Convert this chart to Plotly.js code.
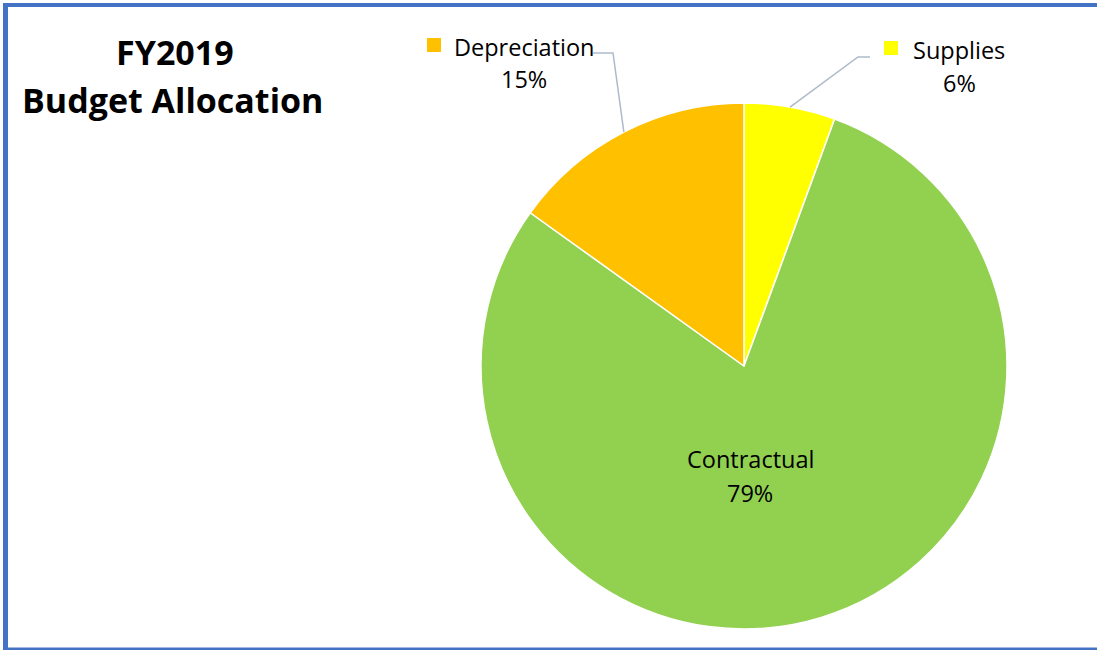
<!DOCTYPE html>
<html><head><meta charset="utf-8">
<script src="https://cdn.plot.ly/plotly-3.0.1.min.js"></script>
<style>html,body{margin:0;padding:0;background:#fff}#chart{width:1097px;height:650px}</style>
</head><body><div id="chart"></div>
<script>
const categories = ["Supplies", "Contractual", "Depreciation"];
const values = [5.6, 79.3, 15.1];
const colors = ["#FFFF00", "#92D050", "#FFC000"];
const titleLines = ["FY2019", "Budget Allocation"];

const W = 1097, H = 650;
const FONT = "Open Sans, Noto Sans, sans-serif";
const px = x => x / W, py = y => 1 - y / H;

// pie geometry (pixels)
const cx = 744, cy = 366, R = 263;
const total = values.reduce((a, b) => a + b, 0);
const pct = values.map(v => Math.round(v / total * 100) + "%");
let cum = 0;
const mids = values.map(v => { const m = (cum + v / 2) / total; cum += v; return m * 2 * Math.PI; });
const edge = i => [cx + R * Math.sin(mids[i]), cy - R * Math.cos(mids[i])];

const shapes = [];
const annotations = [];
const leaderColor = "#AEBACB";
const LBL = 23.5;

function textAt(x, y, text, size, bold) {
  annotations.push({xref: "paper", yref: "paper", x: px(x), y: py(y),
    xanchor: "center", yanchor: "middle", showarrow: false, align: "center",
    text: bold ? "<b>" + text + "</b>" : text, font: {family: FONT, size: size, color: "#000"}});
}

// outside labels with leader lines and keys
const outside = [
  {i: 2, bend: [613, 53], end: [593, 53], l1: [524, 47], l2: [524, 79], key: [427, 38]},
  {i: 0, bend: [858, 57], end: [870, 57], l1: [959, 50], l2: [959, 83], key: [884, 41]}
];
outside.forEach(o => {
  const [ex, ey] = edge(o.i);
  shapes.push({type: "path", xref: "paper", yref: "paper",
    path: `M${px(ex)},${py(ey)} L${px(o.bend[0])},${py(o.bend[1])} L${px(o.end[0])},${py(o.end[1])}`,
    line: {color: leaderColor, width: 1.5}});
  shapes.push({type: "rect", xref: "paper", yref: "paper",
    x0: px(o.key[0]), x1: px(o.key[0] + 14), y0: py(o.key[1]), y1: py(o.key[1] + 14),
    fillcolor: colors[o.i], line: {width: 0}});
  textAt(o.l1[0], o.l1[1], categories[o.i], LBL);
  textAt(o.l2[0], o.l2[1], pct[o.i], LBL);
});
// inside label
textAt(750, 459, categories[1], LBL);
textAt(750, 493, pct[1], LBL);
// title
textAt(175, 52, titleLines[0], 34, true);
textAt(172, 100, titleLines[1], 34, true);

// frame
const frameColor = "#4472C4";
shapes.push({type: "line", xref: "paper", yref: "paper", x0: px(3), x1: 1, y0: py(5), y1: py(5), line: {color: frameColor, width: 4}});
shapes.push({type: "line", xref: "paper", yref: "paper", x0: px(5.5), x1: px(5.5), y0: py(3), y1: py(650), line: {color: frameColor, width: 5}});
shapes.push({type: "line", xref: "paper", yref: "paper", x0: px(3), x1: 1, y0: py(649), y1: py(649), line: {color: frameColor, width: 3}});

const data = [{
  type: "pie", labels: categories, values: values, sort: false,
  direction: "clockwise", rotation: 0,
  marker: {colors: colors, line: {color: "#FFFFFF", width: 1.5}},
  textinfo: "none", hoverinfo: "none", showlegend: false,
  domain: {x: [(cx - R) / W, (cx + R) / W], y: [(H - cy - R) / H, (H - cy + R) / H]}
}];
const layout = {width: W, height: H, margin: {l: 0, r: 0, t: 0, b: 0},
  paper_bgcolor: "#fff", showlegend: false, shapes: shapes, annotations: annotations};
Plotly.newPlot("chart", data, layout, {displayModeBar: false, staticPlot: true});
</script></body></html>
